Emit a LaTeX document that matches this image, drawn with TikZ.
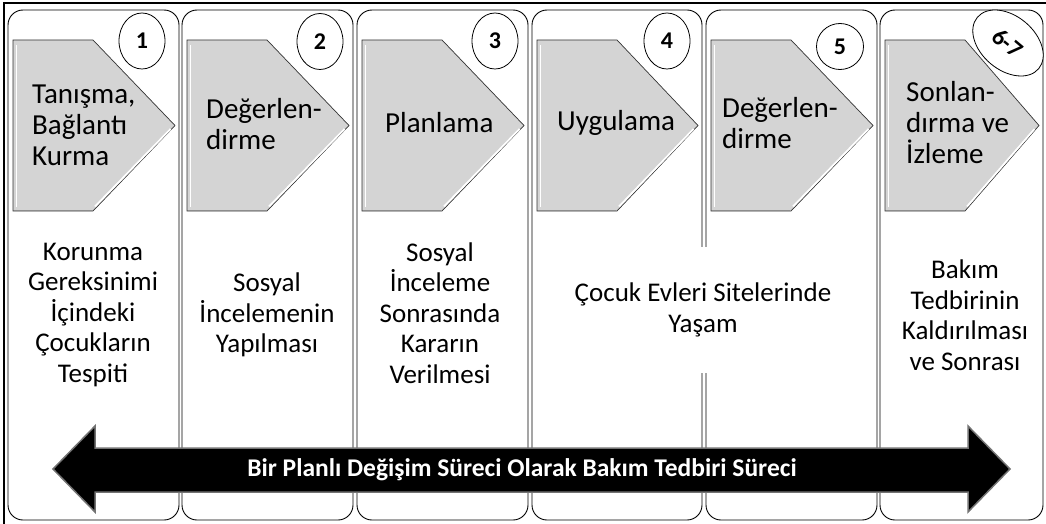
\documentclass[tikz,border=0pt]{standalone}
\usepackage{fontspec}
\setmainfont{Carlito}
\usetikzlibrary{shapes.geometric}
\definecolor{chev}{RGB}{212,212,212}
\begin{document}
\begin{tikzpicture}[x=1pt,y=-1pt,
 panel/.style={draw=black, line width=0.9pt, rounded corners=15pt},
 chevron/.style={fill=chev, draw=black!80, line width=0.7pt},
 chevtext/.style={anchor=west, align=left, inner sep=0pt, font=\fontsize{29}{31}\selectfont},
 bodytext/.style={align=center, inner sep=0pt, font=\fontsize{27}{30.5}\selectfont},
 num/.style={ellipse, draw=black, fill=white, line width=0.8pt, minimum width=46pt, minimum height=56pt, inner sep=0pt, font=\fontsize{24}{24}\selectfont\bfseries},
 bigarrow/.style={fill=black, draw=black!55, line width=1.5pt, line join=miter},
 arrowtext/.style={text=white, inner sep=0pt, font=\fontsize{25.5}{28}\selectfont\bfseries}
]
\useasboundingbox (0,0) rectangle (1046,524);
% outer frame
\draw[line width=1.2pt] (4,3) rectangle (1052,530);
% panels and chevrons
\foreach \pl/\pr in {8/179, 182/353, 357/528, 532/702, 706/877, 880/1043}{
  \draw[panel] (\pl,10) rectangle (\pr,520);
  \pgfmathsetmacro{\L}{\pl+5}
  \pgfmathsetmacro{\N}{\pl+85}
  \pgfmathsetmacro{\T}{\pr-4}
  \draw[chevron] (\L,40) -- (\N,40) -- (\T,125.5) -- (\N,211) -- (\L,211) -- cycle;
  \draw[white, line width=1.6pt] (\L+3.5,45) -- (\L+3.5,207);
  \draw[white, line width=1.8pt] (\N+2,206.5) -- (\T-4.5,129);
  \draw[black!45, line width=0.8pt] (\L+1,210) -- (\N-1,210);
}
% step numbers
\node[num] (n1) at (142,41) {1};
\node[num] (n2) at (320,41.5) {2};
\node[num] (n3) at (495,41) {3};
\node[num] (n4) at (667,41) {4};
\node[num, minimum height=46pt, minimum width=47pt] (n5) at (840,46.5) {5};
\node[num, rotate=-40, minimum width=80pt, minimum height=54pt] (n67) at (1008,43) {6-7};
% chevron titles
\node[chevtext] (t1) at (32,125) {Tanışma,\\Bağlantı\\Kurma};
\node[chevtext] (t2) at (206,124) {Değerlen-\\dirme};
\node[chevtext] (t3) at (385,123) {Planlama};
\node[chevtext] (t4) at (557,123) {Uygulama};
\node[chevtext] (t5) at (722,123) {Değerlen-\\dirme};
\node[chevtext] (t6) at (906,123) {Sonlan-\\dırma ve\\İzleme};
% body texts
\node[bodytext] (b1) at (93,315) {Korunma\\Gereksinimi\\İçindeki\\Çocukların\\Tespiti};
\node[bodytext] (b2) at (267,315) {Sosyal\\İncelemenin\\Yapılması};
\node[bodytext] (b3) at (440,313) {Sosyal\\İnceleme\\Sonrasında\\Kararın\\Verilmesi};
\node[bodytext, fill=white, minimum height=126pt, inner xsep=4pt] (b45) at (703,310) {Çocuk Evleri Sitelerinde\\Yaşam};
\node[bodytext] (b6) at (965,315) {Bakım\\Tedbirinin\\Kaldırılması\\ve Sonrası};
% double arrow
\draw[bigarrow] (53,469) -- (95,426) -- (95,448) -- (968,448) -- (968,426) -- (1010,469)
  -- (968,512) -- (968,492) -- (95,492) -- (95,512) -- cycle;
\node[arrowtext] (at) at (522,470) {Bir Planlı Değişim Süreci Olarak Bakım Tedbiri Süreci};
\end{tikzpicture}
\end{document}
